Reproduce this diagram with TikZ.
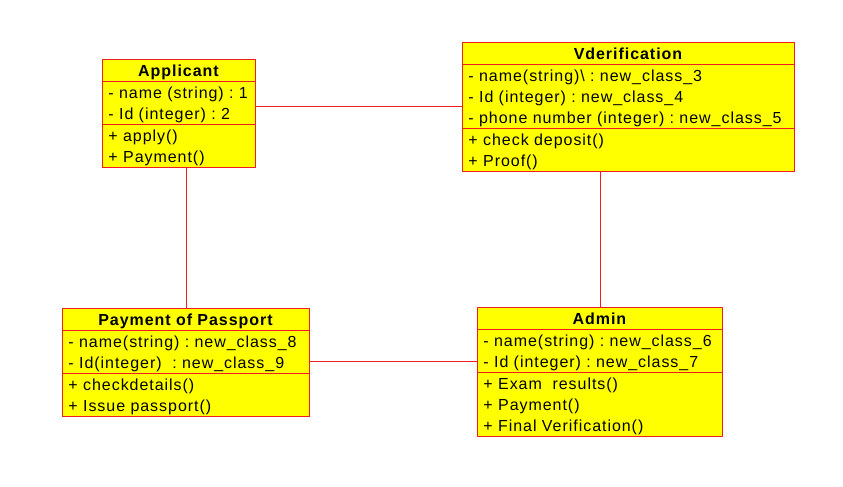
\documentclass[tikz,border=0pt]{standalone}
\usepackage{fontspec}
\setmainfont[LetterSpace=6]{Liberation Sans}
\usepackage{xcolor}
\usepackage{tikz}
\usetikzlibrary{shapes.multipart,calc}
\definecolor{umlred}{HTML}{F01E1E}
\definecolor{umlfill}{HTML}{FFFF00}
\newcommand{\rs}{\rule[-4.2pt]{0pt}{21pt}}
\newcommand{\hs}{\rule[-4.5pt]{0pt}{21.3pt}}
\newcommand{\ctitle}[1]{\hbox to\hsize{\hfil\textbf{#1}\hs\hfil}}
\tikzset{
  umlclass/.style={rectangle split,rectangle split parts=3,draw=umlred,fill=umlfill,
    line width=0.9pt,inner xsep=6pt,inner ysep=0pt,anchor=north west,align=left,
    font=\fontsize{16}{21}\selectfont\frenchspacing},
  assoc/.style={umlred,line width=0.9pt}
}

\begin{document}
\begin{tikzpicture}[x=1pt,y=-1pt]
  \useasboundingbox (0,0) rectangle (843,487);
  \node[umlclass,text width=141pt] (app) at (102,59) {\ctitle{Applicant}
    \nodepart{two}- name (string) : 1\rs\\- Id (integer) : 2\rs
    \nodepart{three}+ apply()\rs\\+ Payment()\rs};
  \node[umlclass,text width=320pt] (ver) at (462,42) {\ctitle{Vderification}
    \nodepart{two}- name(string)\textbackslash\ : new\_class\_3\rs\\- Id (integer) : new\_class\_4\rs\\- phone number (integer) : new\_class\_5\rs
    \nodepart{three}+ check deposit()\rs\\+ Proof()\rs};
  \node[umlclass,text width=235pt] (pay) at (62,308) {\ctitle{Payment of Passport}
    \nodepart{two}- name(string) : new\_class\_8\rs\\- Id(integer)\ \ : new\_class\_9\rs
    \nodepart{three}+ checkdetails()\rs\\+ Issue passport()\rs};
  \node[umlclass,text width=233pt] (adm) at (477,307) {\ctitle{Admin}
    \nodepart{two}- name(string) : new\_class\_6\rs\\- Id (integer) : new\_class\_7\rs
    \nodepart{three}+ Exam\ \ results()\rs\\+ Payment()\rs\\+ Final Verification()\rs};
  \coordinate (r1) at (0,106);
  \coordinate (r2) at (0,361);
  \draw[assoc] (app.east |- r1) -- (ver.west |- r1);
  \draw[assoc] (app.south -| pay.north) -- (pay.north);
  \draw[assoc] (ver.south -| adm.north) -- (adm.north);
  \draw[assoc] (pay.east |- r2) -- (adm.west |- r2);
\end{tikzpicture}
\end{document}
